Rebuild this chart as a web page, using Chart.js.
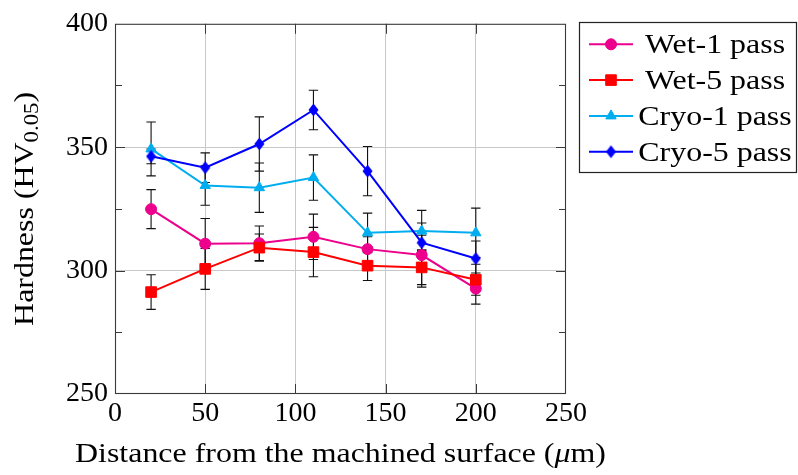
<!DOCTYPE html>
<html>
<head>
<meta charset="utf-8">
<script src="https://cdn.jsdelivr.net/npm/chart.js@4.4.1/dist/chart.umd.min.js"></script>
<style>
  html, body { margin: 0; padding: 0; background: #fff; }
  canvas { display: block; }
</style>
</head>
<body>
<canvas id="hv" width="798" height="475"></canvas>
<script>
// Micro-hardness profiles below the machined surface (mean and scatter)
const depthUm  = [20, 50, 80, 110, 140, 170, 200];
const wet1     = [324.9, 310.9, 311.1, 313.7, 308.7, 306.3, 292.7];
const wet1Err  = [7.9, 10.2, 7.0, 9.2, 5.0, 13.0, 6.3];
const wet5     = [291.3, 300.7, 309.3, 307.5, 302.0, 301.3, 296.3];
const wet5Err  = [7.0, 8.3, 5.5, 10.0, 6.0, 7.0, 6.3];
const cryo1    = [349.3, 334.5, 333.6, 337.7, 315.3, 316.0, 315.3];
const cryo1Err = [10.9, 8.0, 10.0, 9.2, 8.0, 8.4, 10.0];
const cryo5    = [346.3, 341.7, 351.3, 365.1, 340.3, 311.3, 304.9];
const cryo5Err = [3.0, 6.0, 11.0, 8.0, 10.0, 3.0, 7.1];

const seriesNames = ['Wet-1 pass', 'Wet-5 pass', 'Cryo-1 pass', 'Cryo-5 pass'];
const xTickValues = [0, 50, 100, 150, 200, 250];
const yTickValues = [250, 300, 350, 400];
const yMinorValues = [275, 325, 375];

const xTitleParts = [['Distance from the machined surface (', 'normal'], ['μ', 'italic'], ['m)', 'normal']];
const yTitleMain = 'Hardness (HV';
const yTitleSub = '0.05';
const yTitleEnd = ')';

const FONT = '"Liberation Serif", "Times New Roman", serif';
const FONT_SIZE = 28;
const TEXT_WIDEN = 1.14;   // wider, book-style letterforms for the word labels

const MAGENTA = '#ec008c';
const RED = '#ff0000';
const CYAN = '#00aeef';
const BLUE = '#0000ff';

// Narrow diamond marker (taller than wide)
function diamondMarker(color) {
  const c = document.createElement('canvas');
  c.width = 11; c.height = 14;
  const g = c.getContext('2d');
  g.fillStyle = color;
  g.beginPath();
  g.moveTo(5.5, 0.5);
  g.lineTo(10.5, 7);
  g.lineTo(5.5, 13.5);
  g.lineTo(0.5, 7);
  g.closePath();
  g.fill();
  return c;
}

function toPoints(values) {
  return depthUm.map((d, i) => ({ x: d, y: values[i] }));
}

function series(label, values, errs, color, style, radius, order) {
  return {
    label,
    data: toPoints(values),
    errors: errs,
    borderColor: color,
    backgroundColor: color,
    borderWidth: 2,
    pointStyle: style,
    pointRadius: radius,
    pointHoverRadius: radius,
    pointBorderWidth: 1,
    pointBorderColor: color,
    pointBackgroundColor: color,
    tension: 0,
    order
  };
}

const datasets = [
  series(seriesNames[0], wet1, wet1Err, MAGENTA, 'circle', 5.5, 4),
  series(seriesNames[1], wet5, wet5Err, RED, 'rect', 7.5, 3),
  series(seriesNames[2], cryo1, cryo1Err, CYAN, 'triangle', 6, 2),
  series(seriesNames[3], cryo5, cryo5Err, BLUE, diamondMarker(BLUE), 6, 1)
];

// Draws text pieces [text, style] widened horizontally; returns nothing
function drawWideText(ctx, parts, cx, baseline, size, align) {
  const widths = parts.map(p => {
    ctx.font = `${p[1]} ${p[2] || size}px ${FONT}`;
    return ctx.measureText(p[0]).width;
  });
  const total = widths.reduce((a, b) => a + b, 0);
  ctx.save();
  ctx.translate(cx, baseline);
  ctx.scale(TEXT_WIDEN, 1);
  ctx.textAlign = 'left';
  ctx.textBaseline = 'alphabetic';
  let x = align === 'center' ? -total / 2 : 0;
  parts.forEach((p, i) => {
    ctx.font = `${p[1]} ${p[2] || size}px ${FONT}`;
    ctx.fillText(p[0], x, p[3] || 0);
    x += widths[i];
  });
  ctx.restore();
}

const decorations = {
  id: 'decorations',
  beforeDatasetsDraw(chart) {
    // vertical error bars with caps
    const { ctx, scales: { x, y } } = chart;
    ctx.save();
    ctx.strokeStyle = '#111';
    ctx.lineWidth = 1.1;
    chart.data.datasets.forEach(ds => {
      ds.data.forEach((p, j) => {
        const e = ds.errors[j];
        const px = x.getPixelForValue(p.x);
        const top = y.getPixelForValue(p.y + e);
        const bot = y.getPixelForValue(p.y - e);
        ctx.beginPath();
        ctx.moveTo(px, top); ctx.lineTo(px, bot);
        ctx.moveTo(px - 4.7, top); ctx.lineTo(px + 4.7, top);
        ctx.moveTo(px - 4.7, bot); ctx.lineTo(px + 4.7, bot);
        ctx.stroke();
      });
    });
    ctx.restore();
  },
  afterDraw(chart) {
    const { ctx, chartArea: ca, scales: { x, y } } = chart;
    ctx.save();

    // frame
    ctx.strokeStyle = '#3a3a3a';
    ctx.lineWidth = 1.1;
    ctx.strokeRect(ca.left + 0.5, ca.top + 0.5, ca.right - ca.left - 1, ca.bottom - ca.top - 1);

    // inward tick marks
    ctx.beginPath();
    xTickValues.slice(1, -1).forEach(v => {
      const px = Math.round(x.getPixelForValue(v)) + 0.5;
      ctx.moveTo(px, ca.bottom); ctx.lineTo(px, ca.bottom - 10);
      ctx.moveTo(px, ca.top); ctx.lineTo(px, ca.top + 10);
    });
    yTickValues.slice(1, -1).forEach(v => {
      const py = Math.round(y.getPixelForValue(v)) + 0.5;
      ctx.moveTo(ca.left, py); ctx.lineTo(ca.left + 10, py);
      ctx.moveTo(ca.right, py); ctx.lineTo(ca.right - 10, py);
    });
    yMinorValues.forEach(v => {
      const py = Math.round(y.getPixelForValue(v)) + 0.5;
      ctx.moveTo(ca.left, py); ctx.lineTo(ca.left + 7, py);
      ctx.moveTo(ca.right, py); ctx.lineTo(ca.right - 7, py);
    });
    ctx.lineWidth = 1;
    ctx.stroke();

    ctx.fillStyle = '#000';

    // x axis title
    drawWideText(ctx, xTitleParts, (ca.left + ca.right) / 2, 462, FONT_SIZE, 'center');

    // y axis title, rotated, with subscript
    ctx.save();
    ctx.translate(33, (ca.top + ca.bottom) / 2);
    ctx.rotate(-Math.PI / 2);
    drawWideText(ctx, [
      [yTitleMain, 'normal'],
      [yTitleSub, 'normal', Math.round(FONT_SIZE * 0.72), 5],
      [yTitleEnd, 'normal']
    ], 0, 0, FONT_SIZE, 'center');
    ctx.restore();

    // legend box
    const lx = 579, ly = 22, lw = 218, lh = 151;
    ctx.fillStyle = '#fff';
    ctx.fillRect(lx, ly, lw, lh);
    ctx.strokeStyle = '#222';
    ctx.lineWidth = 1.2;
    ctx.strokeRect(lx + 0.5, ly + 0.5, lw - 1, lh - 1);
    chart.data.datasets.forEach((ds, i) => {
      const ry = 44.3 + i * 35.8;
      ctx.strokeStyle = ds.borderColor;
      ctx.lineWidth = ds.borderWidth;
      ctx.beginPath();
      ctx.moveTo(589, ry); ctx.lineTo(633, ry);
      ctx.stroke();
      ctx.fillStyle = ds.pointBackgroundColor;
      ctx.strokeStyle = ds.pointBorderColor;
      ctx.lineWidth = ds.pointBorderWidth;
      Chart.helpers.drawPoint(ctx, {
        pointStyle: ds.pointStyle, radius: ds.pointRadius, rotation: 0,
        borderWidth: ds.pointBorderWidth
      }, 611, ry);
      ctx.fillStyle = '#000';
      drawWideText(ctx, [[ds.label, 'normal']], 715, ry + 9, FONT_SIZE, 'center');
    });

    ctx.restore();
  }
};

new Chart(document.getElementById('hv'), {
  type: 'line',
  data: { datasets },
  plugins: [decorations],
  options: {
    responsive: false,
    animation: false,
    devicePixelRatio: 1,
    layout: { padding: { left: 0, top: 21, right: 232, bottom: 0 } },
    plugins: {
      legend: { display: false },
      tooltip: { enabled: false },
      title: { display: false }
    },
    scales: {
      x: {
        type: 'linear',
        min: 0, max: 250,
        afterFit(s) { s.height = 81; },
        afterBuildTicks(s) { s.ticks = xTickValues.map(v => ({ value: v })); },
        ticks: {
          autoSkip: false,
          maxRotation: 0,
          padding: 3,
          color: '#000',
          font: { family: FONT, size: FONT_SIZE },
          callback: v => String(v)
        },
        grid: {
          drawTicks: false,
          color: ctx => (ctx.tick && (ctx.tick.value === 0 || ctx.tick.value === 250)) ? 'rgba(0,0,0,0)' : '#c8c8c8',
          lineWidth: 1
        },
        border: { display: false }
      },
      y: {
        type: 'linear',
        min: 250, max: 400,
        afterFit(s) { s.width = 115; },
        afterBuildTicks(s) { s.ticks = yTickValues.map(v => ({ value: v })); },
        ticks: {
          autoSkip: false,
          padding: 7,
          color: '#000',
          font: { family: FONT, size: FONT_SIZE },
          callback: v => String(v)
        },
        grid: {
          drawTicks: false,
          color: ctx => (ctx.tick && (ctx.tick.value === 250 || ctx.tick.value === 400)) ? 'rgba(0,0,0,0)' : '#c8c8c8',
          lineWidth: 1
        },
        border: { display: false }
      }
    }
  }
});
</script>
</body>
</html>
